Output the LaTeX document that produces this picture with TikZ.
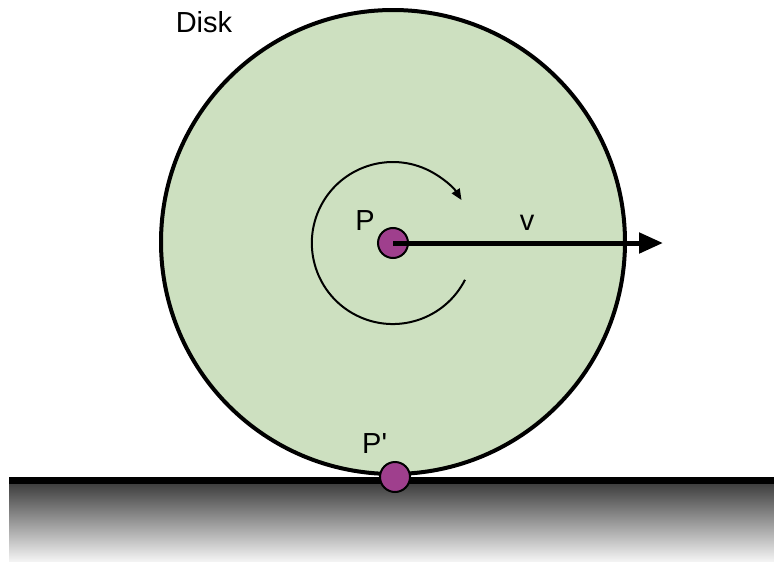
\documentclass[tikz,border=0pt]{standalone}
\usepackage{fontspec}
\setmainfont{Liberation Sans}
\usetikzlibrary{arrows.meta}
\definecolor{diskgreen}{RGB}{205,224,192}
\definecolor{dotpurple}{RGB}{159,63,141}
\begin{document}
\begin{tikzpicture}[x=1pt,y=-1pt,
  lbl/.style={font=\fontsize{29}{34}\selectfont, inner sep=0pt, text=black},
  dot/.style={circle, fill=dotpurple, draw=black, line width=2pt, minimum size=30pt, inner sep=0pt},
  disk/.style={fill=diskgreen, draw=black, line width=4pt}]
\useasboundingbox (0,0) rectangle (774,562);
% ground
\shade[top color=black!75, bottom color=white] (9,484) rectangle (774,566);
\fill[black] (9,477) rectangle (774,484);
% disk
\draw[disk] (393,242) circle[radius=232];
% rotation arc
\coordinate (arcstart) at (465,279.8);
\draw[line width=2pt, -{Triangle[length=11pt,width=9pt]}] (arcstart) arc[start angle=27, end angle=328, radius=81];
% dots
\node[dot] (P) at (393,243) {};
\node[dot] (Pp) at (395,477) {};
% velocity arrow
\coordinate (vtip) at (663,243);
\draw[line width=5pt, -{Triangle[length=24pt,width=20pt]}] (P.center) -- (vtip);
% labels
\node[lbl] (disklbl) at (204,22.5) {Disk};
\node[lbl, anchor=base] (Plbl) at (365,230) {P};
\node[lbl, anchor=base] (vlbl) at (527,230) {v};
\node[lbl, anchor=base west] (Pplbl) at (362,453.3) {P\textquotesingle};
\end{tikzpicture}
\end{document}
